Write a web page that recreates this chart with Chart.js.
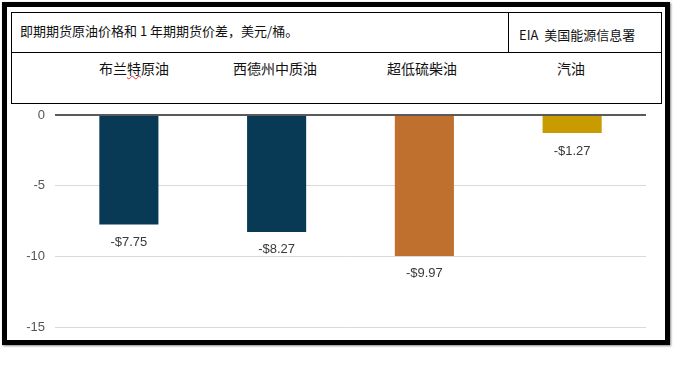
<!DOCTYPE html>
<html>
<head>
<meta charset="utf-8">
<script src="https://cdn.jsdelivr.net/npm/chart.js@4"></script>
<style>
  body { margin:0; background:#fff; }
  #wrap { position:relative; width:674px; height:386px; }
  #c { position:absolute; left:0; top:0; }
  .frame { position:absolute; left:2px; top:2px; width:658px; height:333px; border:5px solid #000; box-shadow:1px 1px 2px #888; }
  .head { position:absolute; left:11px; top:12px; width:649px; height:90px; border:1px solid #000; background:#fff;
          font-family:"Noto Sans CJK SC", sans-serif; color:#111; }
  .row1 { position:absolute; left:0; top:0; width:100%; height:39px; border-bottom:1px solid #000; }
  .div { position:absolute; left:496px; top:0; width:1px; height:39px; background:#000; }
  .title { position:absolute; left:8px; top:8px; font-size:13px; white-space:nowrap; }
  .src { position:absolute; left:507px; top:12px; font-size:13px; white-space:nowrap; }
  .cat { position:absolute; top:45px; font-size:14px; white-space:nowrap; transform:translateX(-50%); }
  .sq { text-decoration:underline wavy #e03030; text-decoration-thickness:1px; }
</style>
</head>
<body>
<div id="wrap">
  <canvas id="c" width="674" height="386"></canvas>
  <div class="frame"></div>
  <div class="head">
    <div class="row1"></div>
    <div class="div"></div>
    <div class="title">即期期货原油价格和 1 年期期货价差，美元/桶。</div>
    <div class="src">EIA&nbsp; 美国能源信息署</div>
    <div class="cat" style="left:122px">布兰<span class="sq">特</span>原油</div>
    <div class="cat" style="left:263px">西德州中质油</div>
    <div class="cat" style="left:410px">超低硫柴油</div>
    <div class="cat" style="left:559px">汽油</div>
  </div>
</div>
<script>
const categories = ['布兰特原油', '西德州中质油', '超低硫柴油', '汽油'];
const spreads = [-7.75, -8.27, -9.97, -1.27];
const barColors = ['#083a56', '#083a56', '#c0702e', '#c89b00'];
const yTicks = [0, -5, -10, -15];

// value labels under each bar
const valueLabels = {
  id: 'valueLabels',
  afterDatasetsDraw(chart){
    const ctx = chart.ctx;
    const meta = chart.getDatasetMeta(0);
    ctx.save();
    ctx.font = '13px "Liberation Sans", Arial, sans-serif';
    ctx.fillStyle = '#3a3a3a';
    ctx.textAlign = 'center';
    ctx.textBaseline = 'middle';
    meta.data.forEach((bar, i)=>{
      ctx.fillText('-$' + Math.abs(spreads[i]).toFixed(2), bar.x, bar.y + 18);
    });
    ctx.restore();
  }
};

new Chart(document.getElementById('c'), {
  type: 'bar',
  data: {
    labels: categories,
    datasets: [{ data: spreads, backgroundColor: barColors, barPercentage: 0.4, categoryPercentage: 1 }]
  },
  options: {
    responsive: false,
    animation: false,
    layout: { padding: { left: 10, top: 115, right: 28, bottom: 59 } },
    plugins: { legend: { display: false }, tooltip: { enabled: false } },
    scales: {
      x: { display: false },
      y: {
        min: Math.min(...yTicks),
        max: Math.max(...yTicks),
        afterFit: s => { s.width = 45; },
        afterBuildTicks: s => { s.ticks = yTicks.map(v => ({ value: v })); },
        border: { display: false },
        grid: {
          drawTicks: false,
          color: c => c.tick && c.tick.value === 0 ? '#5a5a5a' : '#d9d9d9',
          lineWidth: c => c.tick && c.tick.value === 0 ? 2 : 1
        },
        ticks: {
          padding: 10,
          color: '#555',
          font: { family: '"Liberation Sans", Arial, sans-serif', size: 13 }
        }
      }
    }
  },
  plugins: [valueLabels]
});
</script>
</body>
</html>
